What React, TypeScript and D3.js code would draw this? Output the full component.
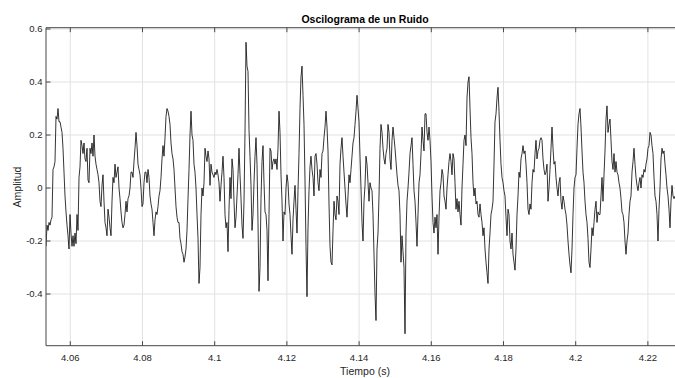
import React from "react";
import * as d3 from "d3";

// Oscillogram samples (amplitude), uniformly sampled
const startTime = 4.05327; // s
const sampleRate = 3610; // Hz (display resolution)
const amplitude: number[] = [
  -0.22,-0.14,-0.16,-0.13,-0.14,-0.12,-0.11,0.07,0.08,0.10,
  0.27,0.26,0.30,0.25,0.25,0.23,0.21,0.15,0.06,-0.03,
  -0.09,-0.14,-0.18,-0.23,-0.10,-0.17,-0.22,-0.18,-0.22,-0.17,
  -0.21,-0.10,-0.16,0.04,0.08,0.18,0.16,0.13,0.17,0.11,
  0.10,0.15,0.03,0.02,0.15,0.13,0.17,0.12,0.20,0.12,
  0.09,0.07,0.05,0.02,-0.05,-0.07,0.01,0.05,-0.05,-0.13,
  -0.15,-0.18,-0.08,-0.11,-0.15,-0.18,-0.05,0.04,0.02,
  0.09,0.04,0.06,0.08,0.00,-0.04,-0.09,-0.13,-0.15,-0.14,
  -0.10,-0.05,-0.09,-0.04,-0.03,0.00,0.06,0.06,0.04,0.10,
  0.15,0.21,0.16,0.09,0.07,0.05,0.00,-0.07,-0.06,0.02,
  0.06,0.06,0.02,0.07,0.04,-0.03,-0.06,-0.08,-0.13,-0.18,
  -0.12,-0.09,-0.10,-0.07,-0.03,-0.01,0.04,0.11,0.16,0.12,
  0.19,0.27,0.30,0.29,0.27,0.24,0.17,0.13,0.11,0.07,
  0.00,-0.07,-0.11,-0.13,-0.13,-0.19,-0.21,-0.24,-0.25,-0.28,
  -0.26,-0.23,-0.16,-0.04,0.07,0.20,0.29,0.20,0.18,0.09,
  0.06,0.00,-0.10,-0.19,-0.36,
  -0.30,-0.10,0.00,-0.03,0.02,0.15,0.12,0.10,0.14,0.11,
  0.01,0.09,0.06,0.05,0.04,0.06,0.05,0.07,0.05,0.02,
  -0.05,0.01,0.06,0.12,0.04,-0.10,-0.15,-0.13,-0.24,-0.08,
  0.04,-0.04,0.11,0.07,-0.05,-0.15,-0.11,-0.03,0.05,0.15,
  0.05,-0.04,-0.14,-0.19,-0.05,0.21,0.55,0.46,0.44,0.22,
  0.12,0.01,-0.16,-0.10,0.02,0.12,0.19,0.09,-0.13,-0.39,
  -0.30,-0.04,0.10,0.16,0.02,-0.09,-0.10,-0.16,-0.35,-0.10,
  0.15,0.14,0.07,0.10,0.11,0.09,0.11,0.07,0.15,0.29,
  0.21,0.05,-0.05,-0.20,-0.09,
  -0.10,0.00,0.05,0.02,-0.06,-0.10,-0.18,-0.25,-0.12,-0.05,
  0.01,-0.08,-0.17,-0.01,0.13,0.30,0.42,0.46,0.35,0.24,
  0.03,-0.22,-0.41,-0.15,-0.01,0.08,0.12,0.07,0.04,-0.03,
  0.12,0.13,0.09,0.02,-0.01,0.07,0.04,0.13,0.14,0.19,
  0.23,0.29,0.23,0.14,-0.06,-0.22,-0.28,-0.29,-0.16,-0.05,
  -0.10,-0.12,-0.03,-0.05,-0.10,0.09,0.15,0.19,0.12,0.06,
  0.00,-0.06,-0.11,-0.03,0.05,0.02,0.07,0.12,0.17,0.19,
  0.24,0.29,0.35,0.30,0.25,0.12,0.00,-0.13,-0.20,-0.05,
  0.01,0.12,0.09,0.02,-0.05,
  0.02,0.00,-0.01,-0.10,-0.25,-0.40,-0.50,-0.23,-0.17,-0.03,
  0.15,0.24,0.21,0.15,0.11,0.09,0.13,0.15,0.24,0.21,
  0.11,0.07,0.18,0.23,0.19,0.15,0.10,0.05,0.01,-0.01,
  -0.10,-0.28,-0.18,-0.24,-0.30,-0.55,-0.17,-0.05,0.00,0.06,
  0.13,0.16,0.19,0.09,-0.01,-0.05,-0.13,-0.22,-0.10,0.02,
  0.05,0.13,0.23,0.18,0.14,0.28,0.28,0.21,0.18,0.23,
  0.18,0.10,-0.03,-0.13,-0.17,-0.11,-0.15,-0.10,-0.25,-0.11,
  -0.01,0.02,0.07,0.05,-0.03,-0.05,-0.08,0.00,0.05,0.10,
  0.13,0.10,0.05,0.13,0.11,
  0.02,-0.08,-0.04,-0.09,-0.05,-0.10,-0.14,0.00,0.09,0.18,
  0.20,0.16,0.34,0.40,0.42,0.30,0.19,0.13,0.02,-0.03,
  0.00,-0.06,-0.05,-0.10,-0.11,-0.06,-0.10,-0.13,-0.18,-0.15,
  -0.23,-0.28,-0.32,-0.36,-0.23,-0.17,-0.10,-0.08,-0.05,0.09,
  0.25,0.28,0.34,0.38,0.29,0.18,0.09,0.04,0.02,-0.01,
  -0.03,-0.11,-0.18,-0.08,-0.10,-0.20,-0.23,-0.17,-0.25,-0.28,
  -0.31,-0.23,-0.10,-0.03,0.06,0.04,0.11,0.13,0.16,0.13,
  0.14,0.09,0.02,-0.08,-0.10,-0.06,-0.08,0.02,0.07,0.06,
  0.13,0.18,0.11,0.14,0.15,
  0.18,0.19,0.18,0.11,0.07,0.05,0.06,0.09,-0.05,0.00,
  0.07,0.15,0.23,0.15,0.09,0.10,0.04,0.00,-0.03,0.02,
  0.04,-0.05,-0.08,-0.03,-0.05,-0.08,-0.10,-0.14,-0.20,-0.25,
  -0.29,-0.32,-0.23,-0.10,0.00,0.04,0.05,0.15,0.24,0.28,
  0.30,0.23,0.14,0.06,0.02,-0.05,-0.10,-0.13,-0.19,-0.28,
  -0.30,-0.23,-0.15,-0.18,-0.13,-0.08,-0.05,-0.13,-0.09,-0.10,
  -0.10,-0.03,0.04,-0.05,0.05,0.14,0.26,0.31,0.21,0.24,
  0.26,0.18,0.10,0.07,0.13,0.06,0.10,0.06,0.05,0.02,
  0.00,-0.04,-0.09,-0.10,-0.13,-0.20,-0.25,-0.20,-0.17,-0.10,
  -0.05,-0.03,0.06,0.10,0.15,0.09,0.04,0.01,-0.01,0.02,
  0.04,0.00,0.05,0.04,0.07,0.06,0.09,0.11,0.15,0.16,
  0.21,0.20,0.16,0.13,0.04,-0.03,-0.05,-0.10,-0.20,-0.08,
  0.00,0.11,0.15,0.13,0.14,0.09,0.05,0.00,-0.03,-0.08,
  -0.15,-0.05,0.01,-0.03,-0.04,-0.03,
];

const xTicks = [4.06, 4.08, 4.1, 4.12, 4.14, 4.16, 4.18, 4.2, 4.22];
const xTickLabels = ["4.06", "4.08", "4.1", "4.12", "4.14", "4.16", "4.18", "4.2", "4.22"];
const yTicks = [-0.4, -0.2, 0, 0.2, 0.4, 0.6];
const yTickLabels = ["-0.4", "-0.2", "0", "0.2", "0.4", "0.6"];

const titleText = "Oscilograma de un Ruido";
const xLabelText = "Tiempo (s)";
const yLabelText = "Amplitud";

const W = 675;
const H = 378;
const left = 46;
const right = 680;
const top = 27.7;
const bottom = 345.7;
const xMin = 4.05327;
const xMax = xMin + (right - left) / sampleRate;
const yMin = -0.595;
const yMax = 0.605;

export default function App() {
  const x = d3.scaleLinear().domain([xMin, xMax]).range([left, right]);
  const y = d3.scaleLinear().domain([yMin, yMax]).range([bottom, top]);
  const pts: [number, number][] = amplitude.map((v, i) => [startTime + i / sampleRate, v]);
  const line = d3
    .line<[number, number]>()
    .x((d) => x(d[0]))
    .y((d) => y(d[1]));
  const font = "'Liberation Sans', Arial, Helvetica, sans-serif";
  const axisColor = "#474747";
  const textColor = "#262626";
  const gridColor = "#e2e2e2";
  return (
    <div style={{ position: "fixed", left: 0, top: 0, width: W, height: H, background: "#fff" }}>
      <svg width={W} height={H} style={{ display: "block" }}>
        <rect x={0} y={0} width={W} height={H} fill="#fff" />
        <defs>
          <clipPath id="plotclip">
            <rect x={left} y={top} width={right - left} height={bottom - top} />
          </clipPath>
        </defs>
        {/* grid */}
        {xTicks.map((t) => (
          <line key={"gx" + t} x1={x(t)} x2={x(t)} y1={top} y2={bottom} stroke={gridColor} strokeWidth={1} />
        ))}
        {yTicks.map((t) => (
          <line key={"gy" + t} x1={left} x2={right} y1={y(t)} y2={y(t)} stroke={gridColor} strokeWidth={1} />
        ))}
        {/* waveform */}
        <path d={line(pts) || ""} fill="none" stroke="#111" strokeWidth={0.85} strokeLinejoin="round" clipPath="url(#plotclip)" />
        {/* axes box */}
        <line x1={left} x2={right} y1={top} y2={top} stroke={axisColor} strokeWidth={1} />
        <line x1={left} x2={right} y1={bottom} y2={bottom} stroke={axisColor} strokeWidth={1} />
        <line x1={left} x2={left} y1={top} y2={bottom} stroke={axisColor} strokeWidth={1} />
        {/* x ticks */}
        {xTicks.map((t, i) => (
          <g key={"xt" + t}>
            <line x1={x(t)} x2={x(t)} y1={bottom} y2={bottom - 4.5} stroke={axisColor} strokeWidth={1} />
            <line x1={x(t)} x2={x(t)} y1={top} y2={top + 4.5} stroke={axisColor} strokeWidth={1} />
            <text x={x(t)} y={360.5} textAnchor="middle" fontFamily={font} fontSize={9.5} fill={textColor}>
              {xTickLabels[i]}
            </text>
          </g>
        ))}
        {/* y ticks */}
        {yTicks.map((t, i) => (
          <g key={"yt" + t}>
            <line x1={left} x2={left + 4.5} y1={y(t)} y2={y(t)} stroke={axisColor} strokeWidth={1} />
            <text x={42.5} y={y(t) + 3.4} textAnchor="end" fontFamily={font} fontSize={9.5} fill={textColor}>
              {yTickLabels[i]}
            </text>
          </g>
        ))}
        {/* labels */}
        <text x={365} y={22.8} textAnchor="middle" fontFamily={font} fontSize={10.5} fontWeight="bold" fill="#000">
          {titleText}
        </text>
        <text x={365} y={374.5} textAnchor="middle" fontFamily={font} fontSize={10.5} fill={textColor}>
          {xLabelText}
        </text>
        <text
          transform={`translate(20.5, 187) rotate(-90)`}
          textAnchor="middle"
          fontFamily={font}
          fontSize={10.5}
          fill={textColor}
        >
          {yLabelText}
        </text>
      </svg>
    </div>
  );
}
